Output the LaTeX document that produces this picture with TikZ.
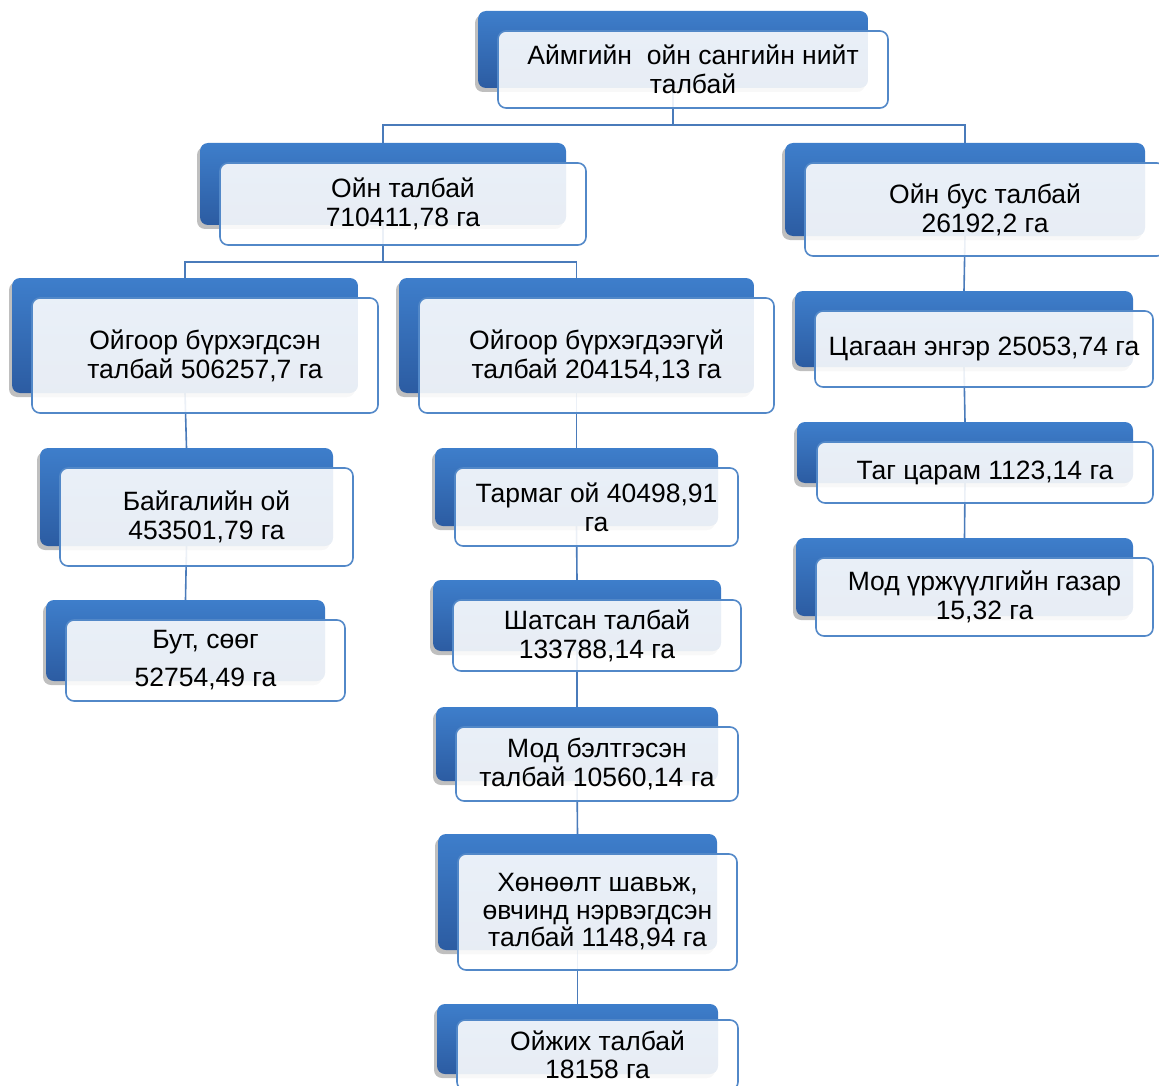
\documentclass[tikz,border=0pt]{standalone}
\usepackage{fontspec}
\setmainfont{Liberation Sans}
\usepackage{tikz}
\usetikzlibrary{shadows,backgrounds,arrows.meta}

\definecolor{tabtop}{HTML}{3E7ECB}
\definecolor{tabbot}{HTML}{2C5CA2}
\definecolor{cardline}{HTML}{5288C8}
\definecolor{linkline}{HTML}{4A7BBA}

\begin{document}
\begin{tikzpicture}[
    x=1pt, y=-1pt,
    sized/.style 2 args={minimum width=#1pt, minimum height=#2pt},
    tab/.style={rectangle, rounded corners=8pt, top color=tabtop, bottom color=tabbot, draw=none,
        drop shadow={shadow xshift=-3pt, shadow yshift=-4pt, opacity=0.25, fill=black}},
    card/.style={rectangle, rounded corners=8pt, draw=cardline, line width=1.6pt, fill=white, fill opacity=0.89,
        text opacity=1, align=center, inner sep=2pt, font=\fontsize{26.5}{29}\selectfont},
    link/.style={draw=linkline, line width=1.6pt},
]
    \useasboundingbox (0,0) rectangle (1159,1086);

    % top level
    \node[tab, sized={390}{77}] (top-t) at (673,49.5) {};
    \node[card, sized={390}{77}] (top) at ([shift={(20,20)}]top-t) {Аймгийн\ \ ойн сангийн нийт\\талбай};

    % second level
    \node[tab, sized={366}{82}] (oin-t) at (383,184) {};
    \node[card, sized={366}{82}] (oin) at ([shift={(20,20)}]oin-t) {Ойн талбай\\710411,78 га};
    \node[tab, sized={360}{93}] (bus-t) at (965,189.5) {};
    \node[card, sized={360}{93}] (bus) at ([shift={(20,20)}]bus-t) {Ойн бус талбай\\26192,2 га};

    % forest land
    \node[tab, sized={346}{115}] (bur-t) at (185,335.5) {};
    \node[card, sized={346}{115}] (bur) at ([shift={(20,20)}]bur-t) {Ойгоор бүрхэгдсэн\\талбай 506257,7 га};
    \node[tab, sized={355}{115}] (burg-t) at (576.5,335.5) {};
    \node[card, sized={355}{115}] (burg) at ([shift={(20,20)}]burg-t) {Ойгоор бүрхэгдээгүй\\талбай 204154,13 га};

    \node[tab, sized={293}{98}] (baig-t) at (186.5,497) {};
    \node[card, sized={293}{98}] (baig) at ([shift={(20,20)}]baig-t) {Байгалийн ой\\453501,79 га};
    \node[tab, sized={279}{81}] (but-t) at (185.5,640.5) {};
    \node[card, sized={279}{81}] (but) at ([shift={(20,20)}]but-t) {Бут, сөөг\\[9pt]52754,49 га};

    \node[tab, sized={283}{78}] (tarm-t) at (576.5,487) {};
    \node[card, sized={283}{78}] (tarm) at ([shift={(20,20)}]tarm-t) {Тармаг ой 40498,91\\га};
    \node[tab, sized={288}{71}] (shat-t) at (577,615.5) {};
    \node[card, sized={288}{71}] (shat) at ([shift={(20,20)}]shat-t) {Шатсан талбай\\133788,14 га};
    \node[tab, sized={282}{74}] (belt-t) at (577,744) {};
    \node[card, sized={282}{74}] (belt) at ([shift={(20,20)}]belt-t) {Мод бэлтгэсэн\\талбай 10560,14 га};
    \node[tab, sized={279}{116}] (khon-t) at (577.5,892) {};
    \node[card, sized={279}{116}, font=\fontsize{26.5}{27.5}\selectfont] (khon) at ([shift={(20,20)}]khon-t) {Хөнөөлт шавьж,\\өвчинд нэрвэгдсэн\\талбай 1148,94 га};
    \node[tab, sized={281}{70}] (oij-t) at (577.5,1039) {};
    \node[card, sized={281}{70}, yshift=4pt, font=\fontsize{26.5}{28}\selectfont] (oij) at ([shift={(20,20)}]oij-t) {Ойжих талбай\\18158 га};

    % non-forest land
    \node[tab, sized={338}{76}] (tsag-t) at (964,329) {};
    \node[card, sized={338}{76}] (tsag) at ([shift={(20,20)}]tsag-t) {Цагаан энгэр 25053,74 га};
    \node[tab, sized={336}{61}] (tag-t) at (965,452.5) {};
    \node[card, sized={336}{61}] (tag) at ([shift={(20,20)}]tag-t) {Таг царам 1123,14 га};
    \node[tab, sized={337}{78}] (mod-t) at (964.5,577) {};
    \node[card, sized={337}{78}] (mod) at ([shift={(20,20)}]mod-t) {Мод үржүүлгийн газар\\15,32 га};

    \begin{pgfonlayer}{background}
        \draw[link] (top-t.south) -- ++(0,37) -| (oin-t.north);
        \draw[link] (top-t.south) -- ++(0,37) -| (bus-t.north);
        \draw[link] (oin-t.south) -- ++(0,37) -| (bur-t.north);
        \draw[link] (oin-t.south) -- ++(0,37) -| (burg-t.north);
        \draw[link] (bur-t.south) -- (baig-t.north);
        \draw[link] (baig-t.south) -- (but-t.north);
        \draw[link] (burg-t.south) -- (tarm-t.north);
        \draw[link] (tarm-t.south) -- (shat-t.north);
        \draw[link] (shat-t.south) -- (belt-t.north);
        \draw[link] (belt-t.south) -- (khon-t.north);
        \draw[link] (khon-t.south) -- (oij-t.north);
        \draw[link] (bus-t.south) -- (tsag-t.north);
        \draw[link] (tsag-t.south) -- (tag-t.north);
        \draw[link] (tag-t.south) -- (mod-t.north);
    \end{pgfonlayer}
\end{tikzpicture}
\end{document}
